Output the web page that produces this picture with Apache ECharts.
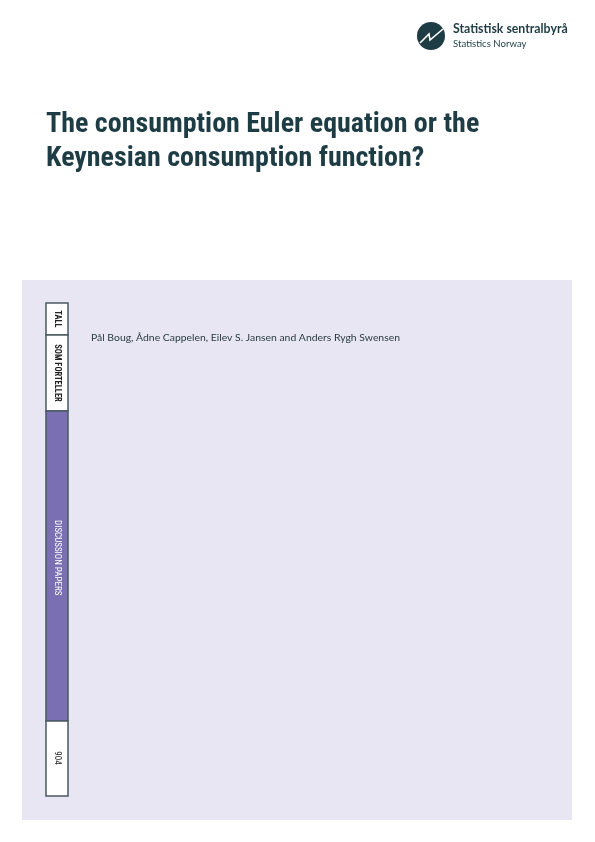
<!DOCTYPE html>
<html><head><meta charset="utf-8">
<script src="https://cdn.jsdelivr.net/npm/echarts@6/dist/echarts.min.js"></script>
<style>html,body{margin:0;padding:0;background:#fff}#c{width:595px;height:842px}</style>
</head><body><div id="c"></div>
<script>
const titleLines = ["The consumption Euler equation or the", "Keynesian consumption function?"];
const authors = "Pål Boug, Ådne Cappelen, Eilev S. Jansen and Anders Rygh Swensen";
const logoLines = ["Statistisk sentralbyrå", "Statistics Norway"];
const spineLabels = ["TALL", "SOM FORTELLER", "DISCUSSION PAPERS", "904"];
const dark = "#1d3c44";
const chart = echarts.init(document.getElementById('c'), null, {renderer:'canvas'});
const spineSeg = [[303,335,'#fff',319,'center'],[335,411,'#fff',373,'center'],[411,721,'#7a6fb3',520,'left'],[721,796,'#fff',758,'center']];
const g = [];
g.push({type:'rect',shape:{x:22,y:280,width:550,height:540},style:{fill:'#e7e6f2'}});
g.push({type:'circle',shape:{cx:431,cy:36,r:14},style:{fill:dark}});
g.push({type:'polyline',shape:{points:[[420,43],[429,34],[430,40],[443,29]]},style:{stroke:'#fff',lineWidth:1.6,fill:null}});
g.push({type:'text',x:453,y:23,style:{text:logoLines[0],font:'bold 12.3px Lato, "Open Sans", sans-serif',fill:dark}});
g.push({type:'text',x:453,y:39,style:{text:logoLines[1],font:'9.6px Lato, "Open Sans", sans-serif',fill:dark}});
titleLines.forEach((t,i)=>g.push({type:'text',x:46,y:111+i*34,style:{text:t,font:'bold 28px "Roboto Condensed", "Liberation Sans Narrow", Roboto, sans-serif',fill:dark}}));
g.push({type:'text',x:91,y:333,style:{text:authors,font:'10.4px Lato, "Open Sans", sans-serif',fill:'#2a3a40'}});
spineSeg.forEach((s,i)=>{
  g.push({type:'rect',shape:{x:46,y:s[0],width:22,height:s[1]-s[0]},style:{fill:s[2],stroke:'#4a5a60',lineWidth:1.5}});
  const isPurple = i===2;
  g.push({type:'text',x:57,y:s[3],rotation:-Math.PI/2,style:{text:spineLabels[i],
    font:(i<2?'bold 8.5px':'9px')+' "Roboto Condensed", "Liberation Sans Narrow", Roboto, sans-serif',
    fill:isPurple?'#fff':'#222',align:s[4],verticalAlign:'middle'}});
});
chart.setOption({animation:false,graphic:{elements:g}});
</script></body></html>
